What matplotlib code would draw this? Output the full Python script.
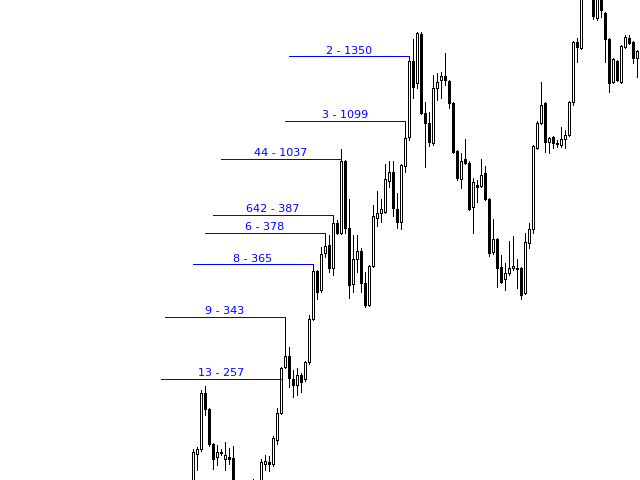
import numpy as np
import matplotlib
matplotlib.use("Agg")
import matplotlib.pyplot as plt
from matplotlib.patches import Rectangle

# candle prices (arbitrary units), one entry per bar
opens = [-5, 26, 31, 87, 71, 36, 23, 27, 21, 23, 22, -10, -18, -12, -20, -14, -6, -10, 16, 18,
         16, 40, 67, 113, 124, 101, 95, 105, 101, 118, 161, 209, 190, 227, 235, 212, 257, 247, 319, 252,
         196, 221, 229, 197, 175, 214, 262, 267, 268, 299, 308, 271, 258, 314, 343, 419, 397, 446, 367, 357,
         337, 392, 400, 404, 399, 377, 329, 301, 321, 317, 273, 295, 294, 307, 281, 228, 241, 213, 201, 207,
         212, 212, 212, 187, 237, 251, 332, 357, 377, 338, 343, 337, 335, 341, 345, 378, 438, 432, 492, 510,
         500, 462, 488, 467, 441, 398, 419, 398, 433, 442, 438, 422]
highs = [31, 33, 90, 94, 72, 37, 35, 31, 38, 32, 34, -6, -8, -9, -10, 1, -3, 21, 25, 24,
         44, 72, 113, 163, 133, 110, 112, 107, 119, 165, 216, 210, 233, 247, 245, 265, 260, 331, 320, 281,
         245, 245, 232, 208, 215, 275, 289, 281, 316, 319, 319, 287, 316, 359, 424, 441, 448, 448, 378, 368,
         405, 407, 408, 427, 400, 378, 330, 327, 341, 319, 302, 300, 321, 314, 282, 261, 242, 225, 217, 239,
         244, 221, 213, 247, 257, 335, 359, 398, 378, 343, 344, 340, 353, 350, 379, 439, 442, 496, 516, 520,
         505, 492, 494, 468, 442, 422, 420, 435, 445, 445, 439, 430]
lows = [-10, 10, 29, 65, 34, 11, 15, 25, 10, 16, -15, -22, -25, -26, -23, -17, -15, -12, 10, 9,
        14, 36, 66, 112, 93, 83, 85, 88, 99, 116, 160, 181, 188, 223, 208, 205, 246, 246, 247, 182,
        188, 208, 188, 173, 174, 213, 254, 258, 267, 293, 264, 252, 251, 308, 340, 382, 392, 366, 313, 334,
        335, 380, 382, 395, 372, 327, 300, 292, 316, 270, 247, 278, 293, 280, 224, 226, 193, 197, 190, 205,
        210, 192, 181, 186, 232, 247, 331, 356, 328, 327, 332, 333, 333, 332, 344, 375, 418, 431, 483, 486,
        461, 460, 463, 418, 388, 397, 399, 397, 432, 436, 417, 403]
closes = [28, 31, 87, 71, 36, 21, 28, 28, 25, 21, -10, -18, -12, -20, -14, -6, -10, 18, 19, 16,
          42, 67, 112, 124, 102, 95, 105, 98, 118, 161, 209, 188, 226, 234, 212, 257, 247, 319, 252, 195,
          221, 229, 197, 175, 214, 264, 267, 271, 301, 308, 272, 258, 315, 342, 419, 393, 447, 367, 357, 338,
          392, 398, 404, 400, 377, 328, 302, 319, 317, 271, 298, 293, 305, 281, 227, 241, 212, 198, 207, 212,
          214, 211, 185, 238, 251, 334, 357, 375, 338, 342, 337, 336, 341, 345, 378, 438, 433, 492, 510, 500,
          464, 488, 470, 441, 397, 421, 400, 434, 443, 437, 422, 429]

# level markers: text, price level, bar where the line ends
level_texts = ["2 - 1350", "3 - 1099", "44 - 1037", "642 - 387", "6 - 378", "8 - 365", "9 - 343", "13 - 257"]
level_prices = [424, 359, 321, 265, 247, 216, 163, 101]
level_bars = [54, 53, 37, 35, 33, 30, 23, 22]
LINE_BARS = 30


def plot_chart():
    fig = plt.figure(figsize=(6.4, 4.8), dpi=100)
    ax = fig.add_axes([0, 0, 1, 1])
    ax.set_xlim(-48.25, 111.75)
    ax.set_ylim(0, 480)
    ax.axis("off")

    px = 0.72  # one pixel in points
    idx = np.arange(len(opens))
    ax.vlines(idx, lows, highs, color="black", linewidth=px, antialiased=False, zorder=2)

    for i in idx:
        o, c = opens[i], closes[i]
        face = "white" if c >= o else "black"
        h = max(abs(c - o), 0.6)
        ax.add_patch(Rectangle((i - 0.37, min(o, c)), 0.74, h, facecolor=face,
                               edgecolor="black", linewidth=px, antialiased=False, zorder=3))

    for txt, lvl, bar in zip(level_texts, level_prices, level_bars):
        ax.hlines(lvl, bar - LINE_BARS, bar, color="#0000ff", linewidth=px, antialiased=False, zorder=4)
        ax.text(bar - LINE_BARS / 2, lvl + 0.5, txt, color="#0000ff", fontsize=8,
                ha="center", va="bottom", zorder=5)

    fig.savefig("out.png", dpi=100, facecolor="white")


plot_chart()
